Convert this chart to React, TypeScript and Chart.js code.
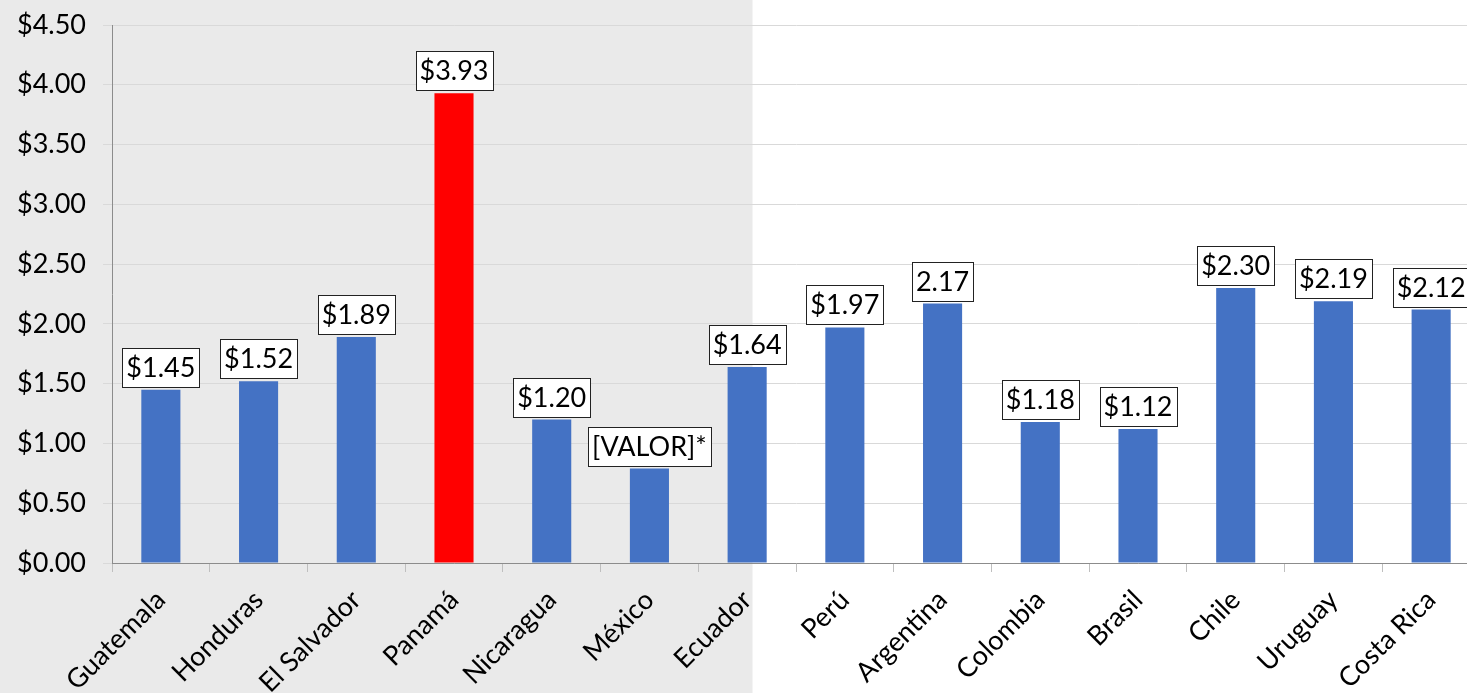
import React, { useEffect, useRef } from "react";
import { Chart, registerables } from "chart.js";

Chart.register(...registerables);

const categories = [
  "Guatemala", "Honduras", "El Salvador", "Panamá", "Nicaragua", "México", "Ecuador",
  "Perú", "Argentina", "Colombia", "Brasil", "Chile", "Uruguay", "Costa Rica",
];
const values = [1.45, 1.52, 1.89, 3.93, 1.2, 0.79, 1.64, 1.97, 2.17, 1.18, 1.12, 2.3, 2.19, 2.12];
const valueLabels = [
  "$1.45", "$1.52", "$1.89", "$3.93", "$1.20", "[VALOR]*", "$1.64",
  "$1.97", "2.17", "$1.18", "$1.12", "$2.30", "$2.19", "$2.12",
];
const barColors = [
  "#4472C4", "#4472C4", "#4472C4", "#FF0000", "#4472C4", "#4472C4", "#4472C4",
  "#4472C4", "#4472C4", "#4472C4", "#4472C4", "#4472C4", "#4472C4", "#4472C4",
];
const yMin = 0;
const yMax = 4.5;
const yStep = 0.5;
const shadedLastIndex = 6;

const FONT = "Lato, 'Open Sans', sans-serif";

const shadePlugin = {
  id: "shade",
  beforeDraw(chart: any) {
    const { ctx } = chart;
    const x = chart.scales.x;
    const cw = x.getPixelForValue(1) - x.getPixelForValue(0);
    const edge = x.getPixelForValue(shadedLastIndex) + cw * 0.055;
    ctx.save();
    ctx.fillStyle = "#FFFFFF";
    ctx.fillRect(0, 0, chart.width, chart.height);
    ctx.fillStyle = "#EAEAEA";
    ctx.fillRect(0, 0, edge, chart.height);
    ctx.restore();
  },
};

const labelPlugin = {
  id: "boxLabels",
  afterDatasetsDraw(chart: any) {
    const { ctx } = chart;
    const meta = chart.getDatasetMeta(0);
    ctx.save();
    ctx.font = `27px ${FONT}`;
    ctx.textAlign = "center";
    ctx.textBaseline = "middle";
    meta.data.forEach((bar: any, i: number) => {
      const text = valueLabels[i];
      const w = Math.round(ctx.measureText(text).width + 8);
      const h = 39;
      const cx = bar.x;
      const bottom = bar.y - 3;
      const left = Math.round(cx - w / 2);
      const top = Math.round(bottom - h);
      ctx.fillStyle = "#FFFFFF";
      ctx.fillRect(left, top, w, h);
      ctx.strokeStyle = "#222222";
      ctx.lineWidth = 1;
      ctx.strokeRect(left + 0.5, top + 0.5, w, h);
      ctx.fillStyle = "#000000";
      ctx.fillText(text, cx, top + h / 2 + 1);
    });
    ctx.restore();
  },
};

export default function App() {
  const ref = useRef<HTMLCanvasElement>(null);
  useEffect(() => {
    document.body.style.margin = "0";
    document.body.style.overflow = "hidden";
    const chart = new Chart(ref.current as HTMLCanvasElement, {
      type: "bar",
      data: {
        labels: categories,
        datasets: [
          {
            data: values,
            backgroundColor: barColors,
            barPercentage: 0.4,
            categoryPercentage: 1,
          },
        ],
      },
      options: {
        animation: false,
        responsive: false,
        devicePixelRatio: 1,
        layout: { padding: { top: 25, left: 0, right: 0, bottom: 0 } },
        plugins: { legend: { display: false }, tooltip: { enabled: false } },
        scales: {
          x: {
            offset: true,
            grid: {
              offset: true,
              drawOnChartArea: false,
              drawTicks: true,
              tickLength: 9,
              color: "#BFBFBF",
            },
            border: { color: "#8C8C8C", width: 1 },
            ticks: {
              color: "#000",
              font: { family: FONT, size: 27 },
              minRotation: 45,
              maxRotation: 45,
              autoSkip: false,
              padding: 12,
            },
            afterFit(scale: any) {
              scale.height = 130;
            },
          },
          y: {
            min: yMin,
            max: yMax,
            grid: { color: "#D9D9D9", tickLength: 9, drawTicks: true },
            border: { color: "#8C8C8C", width: 1 },
            ticks: {
              stepSize: yStep,
              color: "#000",
              font: { family: FONT, size: 27 },
              padding: 17,
              callback: (v: any) => "$" + Number(v).toFixed(2),
            },
            afterFit(scale: any) {
              scale.width = 112;
              scale.paddingTop = 0;
              scale.paddingBottom = 0;
            },
          },
        },
      },
      plugins: [shadePlugin, labelPlugin],
    });
    return () => chart.destroy();
  }, []);
  return (
    <div style={{ position: "absolute", left: 0, top: 0, width: 1467, height: 693, overflow: "hidden" }}>
      <canvas ref={ref} width={1480} height={693} style={{ display: "block" }} />
    </div>
  );
}
